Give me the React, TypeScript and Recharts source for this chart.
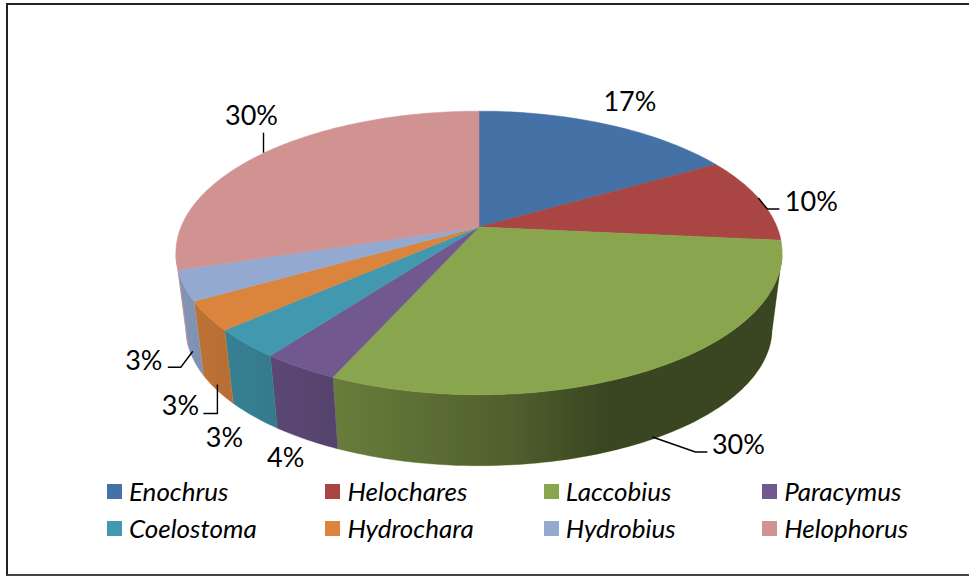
import { Legend, Pie, PieChart } from "recharts";

const genera = ["Enochrus", "Helochares", "Laccobius", "Paracymus", "Coelostoma", "Hydrochara", "Hydrobius", "Helophorus"];
const shares = [16.7, 9.8, 30.2, 3.5, 3.3, 3.3, 3.4, 29.8];
const colors = ["#4472A7", "#A94543", "#89A54E", "#71588F", "#4198AF", "#DB843D", "#93A9CF", "#D19392"];

// label placement, relative to the slice's rim midpoint: [text dx, text dy], leader elbow, leader end
const labelOffsets = [
  { text: [22, -24] },
  { text: [52, 1], elbow: [8, 10], end: [20, 10], start: [-1, -1] },
  { text: [87, 3.5], elbow: [44, 12.5], end: [56, 12.5], start: [1, -2.5], wall: true },
  { text: [-20, 17], wall: true },
  { text: [-29, 20], wall: true },
  { text: [-36, 15], elbow: [1, 24], end: [-13, 24], start: [1, -5], wall: true },
  { text: [-50, -1], elbow: [-13, 7], end: [-26, 7], start: [-1, -9], wall: true },
  { text: [-11, -39], elbow: [1, -21], end: [1, -21], start: [1, -1] },
];

const tableData = genera.map((name, i) => ({ name, value: shares[i], fill: colors[i] }));

const FONT = "Lato, 'Open Sans', sans-serif";
const CX = 479;
const CY = 227;
const RADIUS = 298;
// fake perspective of the tilted disc
const SQUASH = 0.46;
const TILT = 0.183;
// bottom ring of the disc
const RING_SCALE = 0.967;
const RING_DROP = 76.5;
const RAD = Math.PI / 180;

function project(angle: number, cx: number, cy: number, r: number, wall = false) {
  const x = Math.cos(angle * RAD);
  const y = Math.sin(angle * RAD);
  const w = 1 + TILT * y;
  const s = wall ? RING_SCALE : 1;
  return {
    x: cx + (s * r * x) / w,
    y: cy + (wall ? RING_DROP : 0) - (s * r * SQUASH * y) / w,
    facing: y < -TILT,
  };
}

function arcAngles(start: number, end: number) {
  const step = start > end ? -1 : 1;
  const out: number[] = [];
  for (let a = start; step > 0 ? a < end : a > end; a += step) out.push(a);
  out.push(end);
  return out;
}

function TopFace(props: any) {
  const { cx, cy, outerRadius, startAngle, endAngle, fill } = props;
  const pts = arcAngles(startAngle, endAngle).map((a) => project(a, cx, cy, outerRadius));
  const d = `M${cx},${cy} ` + pts.map((p) => `L${p.x.toFixed(2)},${p.y.toFixed(2)}`).join(" ") + " Z";
  return <path d={d} fill={fill} stroke={fill} strokeWidth={0.5} />;
}

function WallFace(props: any) {
  const { cx, cy, outerRadius, startAngle, endAngle, fill } = props;
  const angles = arcAngles(startAngle, endAngle).filter((a) => project(a, cx, cy, outerRadius).facing);
  if (angles.length < 2) return <g />;
  const top = angles.map((a) => project(a, cx, cy, outerRadius));
  const bottom = angles.map((a) => project(a, cx, cy, outerRadius, true)).reverse();
  const d = "M" + [...top, ...bottom].map((p) => `${p.x.toFixed(2)},${p.y.toFixed(2)}`).join(" L") + " Z";
  return (
    <g>
      <path d={d} fill={fill} stroke={fill} strokeWidth={0.5} />
      <path d={d} fill="url(#wallShade)" />
    </g>
  );
}

function PercentLabel(props: any) {
  const { cx, cy, outerRadius, midAngle, index, value } = props;
  const o = labelOffsets[index] as any;
  const p = project(midAngle, cx, cy, outerRadius, !!o.wall);
  return (
    <g>
      {o.elbow && (
        <polyline
          points={[o.start, o.elbow, o.end].map((q: number[]) => `${p.x + q[0]},${p.y + q[1]}`).join(" ")}
          fill="none"
          stroke="#000"
          strokeWidth={1.4}
        />
      )}
      <text
        x={p.x + o.text[0]}
        y={p.y + o.text[1]}
        textAnchor="middle"
        dominantBaseline="central"
        fontFamily={FONT}
        fontSize={27}
        fill="#000"
      >
        {Math.round(value)}%
      </text>
    </g>
  );
}

function LegendGrid({ payload }: any) {
  const items = (payload || []).filter((item: any) => item.type !== "none");
  const shown = items.filter((item: any, i: number) => items.findIndex((o: any) => o.value === item.value) === i);
  return (
    <div style={{ display: "grid", gridTemplateColumns: "repeat(4, 218.4px)", gridAutoRows: "37px", fontFamily: FONT }}>
      {shown.map((item: any) => (
        <div key={item.value} style={{ display: "flex", alignItems: "center", height: 15 }}>
          <span style={{ width: 15, height: 15, background: item.color, marginRight: 7, flex: "none" }} />
          <span style={{ fontStyle: "italic", fontSize: 26, color: "#000", lineHeight: "15px", whiteSpace: "nowrap" }}>{item.value}</span>
        </div>
      ))}
    </div>
  );
}

export default function App() {
  return (
    <div style={{ position: "absolute", left: 0, top: 0, width: 969, height: 576, overflow: "hidden", background: "#fff" }}>
      <div
        style={{
          position: "absolute",
          left: 6,
          top: 3,
          width: 961,
          height: 569,
          borderLeft: "2px solid #222",
          borderTop: "2px solid #222",
          borderBottom: "2px solid #444",
        }}
      />
      <PieChart
        width={969}
        height={576}
        margin={{ top: 0, right: 0, bottom: 0, left: 0 }}
        style={{ position: "absolute", left: 0, top: 0 }}
      >
        <defs>
          <linearGradient id="wallShade" gradientUnits="userSpaceOnUse" x1={176} y1={0} x2={782} y2={0}>
            <stop offset="0%" stopColor="#000" stopOpacity={0.12} />
            <stop offset="26%" stopColor="#000" stopOpacity={0.24} />
            <stop offset="55%" stopColor="#000" stopOpacity={0.42} />
            <stop offset="71%" stopColor="#000" stopOpacity={0.58} />
            <stop offset="100%" stopColor="#000" stopOpacity={0.58} />
          </linearGradient>
        </defs>
        <Pie
          data={tableData}
          dataKey="value"
          nameKey="name"
          cx={CX}
          cy={CY}
          outerRadius={RADIUS}
          startAngle={90}
          endAngle={-270}
          stroke="none"
          legendType="none"
          shape={WallFace}
          label={false}
          labelLine={false}
          isAnimationActive={false}
        />
        <Pie
          data={tableData}
          dataKey="value"
          nameKey="name"
          cx={CX}
          cy={CY}
          outerRadius={RADIUS}
          startAngle={90}
          endAngle={-270}
          stroke="none"
          shape={TopFace}
          label={PercentLabel}
          labelLine={false}
          isAnimationActive={false}
        />
        <Legend
          content={LegendGrid}
          itemSorter={null}
          layout="horizontal"
          verticalAlign="bottom"
          align="left"
          wrapperStyle={{ left: 107, top: 484, bottom: "auto", width: 880 }}
        />
      </PieChart>
    </div>
  );
}
